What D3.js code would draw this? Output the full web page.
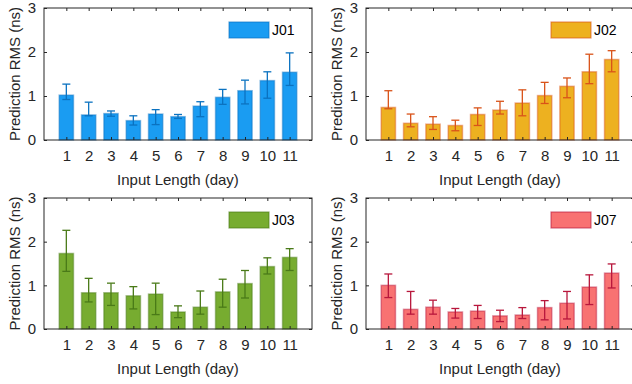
<!DOCTYPE html>
<html>
<head>
<meta charset="utf-8">
<script src="https://cdn.jsdelivr.net/npm/d3@7"></script>
<style>
  body { margin: 0; background: #fff; }
  svg { display: block; font-family: "Liberation Sans", Arial, sans-serif; }
  .axis text { fill: #262626; font-size: 15px; }
</style>
</head>
<body>
<svg id="chart" width="632" height="384"></svg>
<script>
// ── Data ─────────────────────────────────────────────────────────────────────
const days = [1, 2, 3, 4, 5, 6, 7, 8, 9, 10, 11];
const yTicks = [0, 1, 2, 3];

const j01Mean = [1.02, 0.57, 0.60, 0.44, 0.59, 0.53, 0.77, 0.97, 1.12, 1.35, 1.54];
const j01Lo   = [0.92, 0.55, 0.54, 0.34, 0.35, 0.49, 0.53, 0.81, 0.82, 0.95, 1.24];
const j01Hi   = [1.27, 0.86, 0.66, 0.55, 0.69, 0.58, 0.87, 1.15, 1.36, 1.55, 1.98];

const j02Mean = [0.74, 0.38, 0.36, 0.33, 0.58, 0.68, 0.84, 1.01, 1.22, 1.55, 1.83];
const j02Lo   = [0.71, 0.30, 0.24, 0.21, 0.33, 0.59, 0.55, 0.83, 0.96, 1.28, 1.55];
const j02Hi   = [1.12, 0.59, 0.53, 0.45, 0.73, 0.88, 1.14, 1.31, 1.41, 1.95, 2.03];

const j03Mean = [1.73, 0.83, 0.83, 0.76, 0.80, 0.39, 0.50, 0.85, 1.04, 1.43, 1.64];
const j03Lo   = [1.32, 0.62, 0.54, 0.46, 0.33, 0.26, 0.34, 0.50, 0.71, 1.26, 1.34];
const j03Hi   = [2.26, 1.16, 1.05, 0.97, 1.05, 0.53, 0.87, 1.14, 1.34, 1.63, 1.84];

const j07Mean = [1.00, 0.45, 0.50, 0.39, 0.41, 0.30, 0.32, 0.49, 0.59, 0.96, 1.28];
const j07Lo   = [0.72, 0.34, 0.34, 0.25, 0.24, 0.17, 0.24, 0.21, 0.23, 0.56, 0.94];
const j07Hi   = [1.26, 0.86, 0.66, 0.47, 0.54, 0.43, 0.49, 0.65, 0.86, 1.24, 1.49];

// ── Panels ───────────────────────────────────────────────────────────────────
const panels = [
  { name: 'J01', mean: j01Mean, lo: j01Lo, hi: j01Hi, fill: '#1a9cf2', edge: '#0b72c0',
    x0: 44, y0: 8, ybase: 140 },
  { name: 'J02', mean: j02Mean, lo: j02Lo, hi: j02Hi, fill: '#edb120', edge: '#d95319',
    x0: 366, y0: 8, ybase: 140 },
  { name: 'J03', mean: j03Mean, lo: j03Lo, hi: j03Hi, fill: '#77ac30', edge: '#4a7a18',
    x0: 44, y0: 198, ybase: 329 },
  { name: 'J07', mean: j07Mean, lo: j07Lo, hi: j07Hi, fill: '#f87272', edge: '#b8173c',
    x0: 366, y0: 198, ybase: 329 }
];

const W = 268;
const axisColor = '#262626';
const svg = d3.select('#chart');

panels.forEach(p => {
  const g = svg.append('g');
  const x = d3.scaleLinear().domain([0, 12]).range([p.x0, p.x0 + W]);
  const y = d3.scaleLinear().domain([0, 3]).range([p.ybase, p.y0]);
  const bw = (x(1) - x(0)) * 0.64;
  const rows = days.map((d, i) => ({ d, m: p.mean[i], lo: p.lo[i], hi: p.hi[i] }));

  // bars
  g.selectAll('.bar').data(rows).enter().append('rect')
    .attr('class', 'bar')
    .attr('x', r => x(r.d) - bw / 2)
    .attr('width', bw)
    .attr('y', r => y(r.m))
    .attr('height', r => y(0) - y(r.m))
    .attr('fill', p.fill)
    .attr('stroke', p.edge)
    .attr('stroke-opacity', 0.45)
    .attr('stroke-width', 1.5);

  // error bars
  const capW = 4;
  const eb = g.selectAll('.err').data(rows).enter().append('g')
    .attr('stroke', p.edge).attr('stroke-width', 1.3);
  eb.append('line')
    .attr('x1', r => x(r.d)).attr('x2', r => x(r.d))
    .attr('y1', r => y(r.lo)).attr('y2', r => y(r.hi));
  eb.append('line')
    .attr('x1', r => x(r.d) - capW).attr('x2', r => x(r.d) + capW)
    .attr('y1', r => y(r.hi)).attr('y2', r => y(r.hi));
  eb.append('line')
    .attr('x1', r => x(r.d) - capW).attr('x2', r => x(r.d) + capW)
    .attr('y1', r => y(r.lo)).attr('y2', r => y(r.lo));

  // axes (ticks inside, box on)
  const ax = g.append('g').attr('class', 'axis');
  ax.append('g')
    .attr('transform', `translate(0,${p.ybase})`)
    .call(d3.axisBottom(x).tickValues(days).tickSize(-3).tickPadding(10))
    .call(s => s.select('.domain').remove());
  ax.append('g')
    .attr('transform', `translate(0,${p.y0})`)
    .call(d3.axisTop(x).tickValues(days).tickSize(-3).tickFormat(''))
    .call(s => s.select('.domain').remove());
  ax.append('g')
    .attr('transform', `translate(${p.x0},0)`)
    .call(d3.axisLeft(y).tickValues(yTicks).tickSize(-3).tickPadding(8).tickFormat(d3.format('d')))
    .call(s => s.select('.domain').remove());
  ax.append('g')
    .attr('transform', `translate(${p.x0 + W},0)`)
    .call(d3.axisRight(y).tickValues(yTicks).tickSize(-3).tickFormat(''))
    .call(s => s.select('.domain').remove());
  ax.selectAll('line').attr('stroke', axisColor);
  ax.selectAll('text').attr('font-family', null).attr('font-size', null);

  g.append('rect')
    .attr('x', p.x0).attr('y', p.y0)
    .attr('width', W).attr('height', p.ybase - p.y0)
    .attr('fill', 'none').attr('stroke', axisColor).attr('stroke-width', 1);

  // labels
  g.append('text')
    .attr('x', x(6)).attr('y', p.ybase + 45)
    .attr('text-anchor', 'middle')
    .attr('fill', axisColor).attr('font-size', 15)
    .text('Input Length (day)');
  g.append('text')
    .attr('transform', `translate(${p.x0 - 24},${(p.y0 + p.ybase) / 2}) rotate(-90)`)
    .attr('text-anchor', 'middle')
    .attr('fill', axisColor).attr('font-size', 15)
    .text('Prediction RMS (ns)');

  // legend
  const lx = p.x0 + 185, ly = p.y0 + 14;
  g.append('rect')
    .attr('x', lx).attr('y', ly).attr('width', 40).attr('height', 16)
    .attr('fill', p.fill).attr('stroke', p.edge)
    .attr('stroke-opacity', 0.6).attr('stroke-width', 1.2);
  g.append('text')
    .attr('x', lx + 43).attr('y', ly + 13)
    .attr('fill', '#000').attr('font-size', 14)
    .text(p.name);
});
</script>
</body>
</html>
